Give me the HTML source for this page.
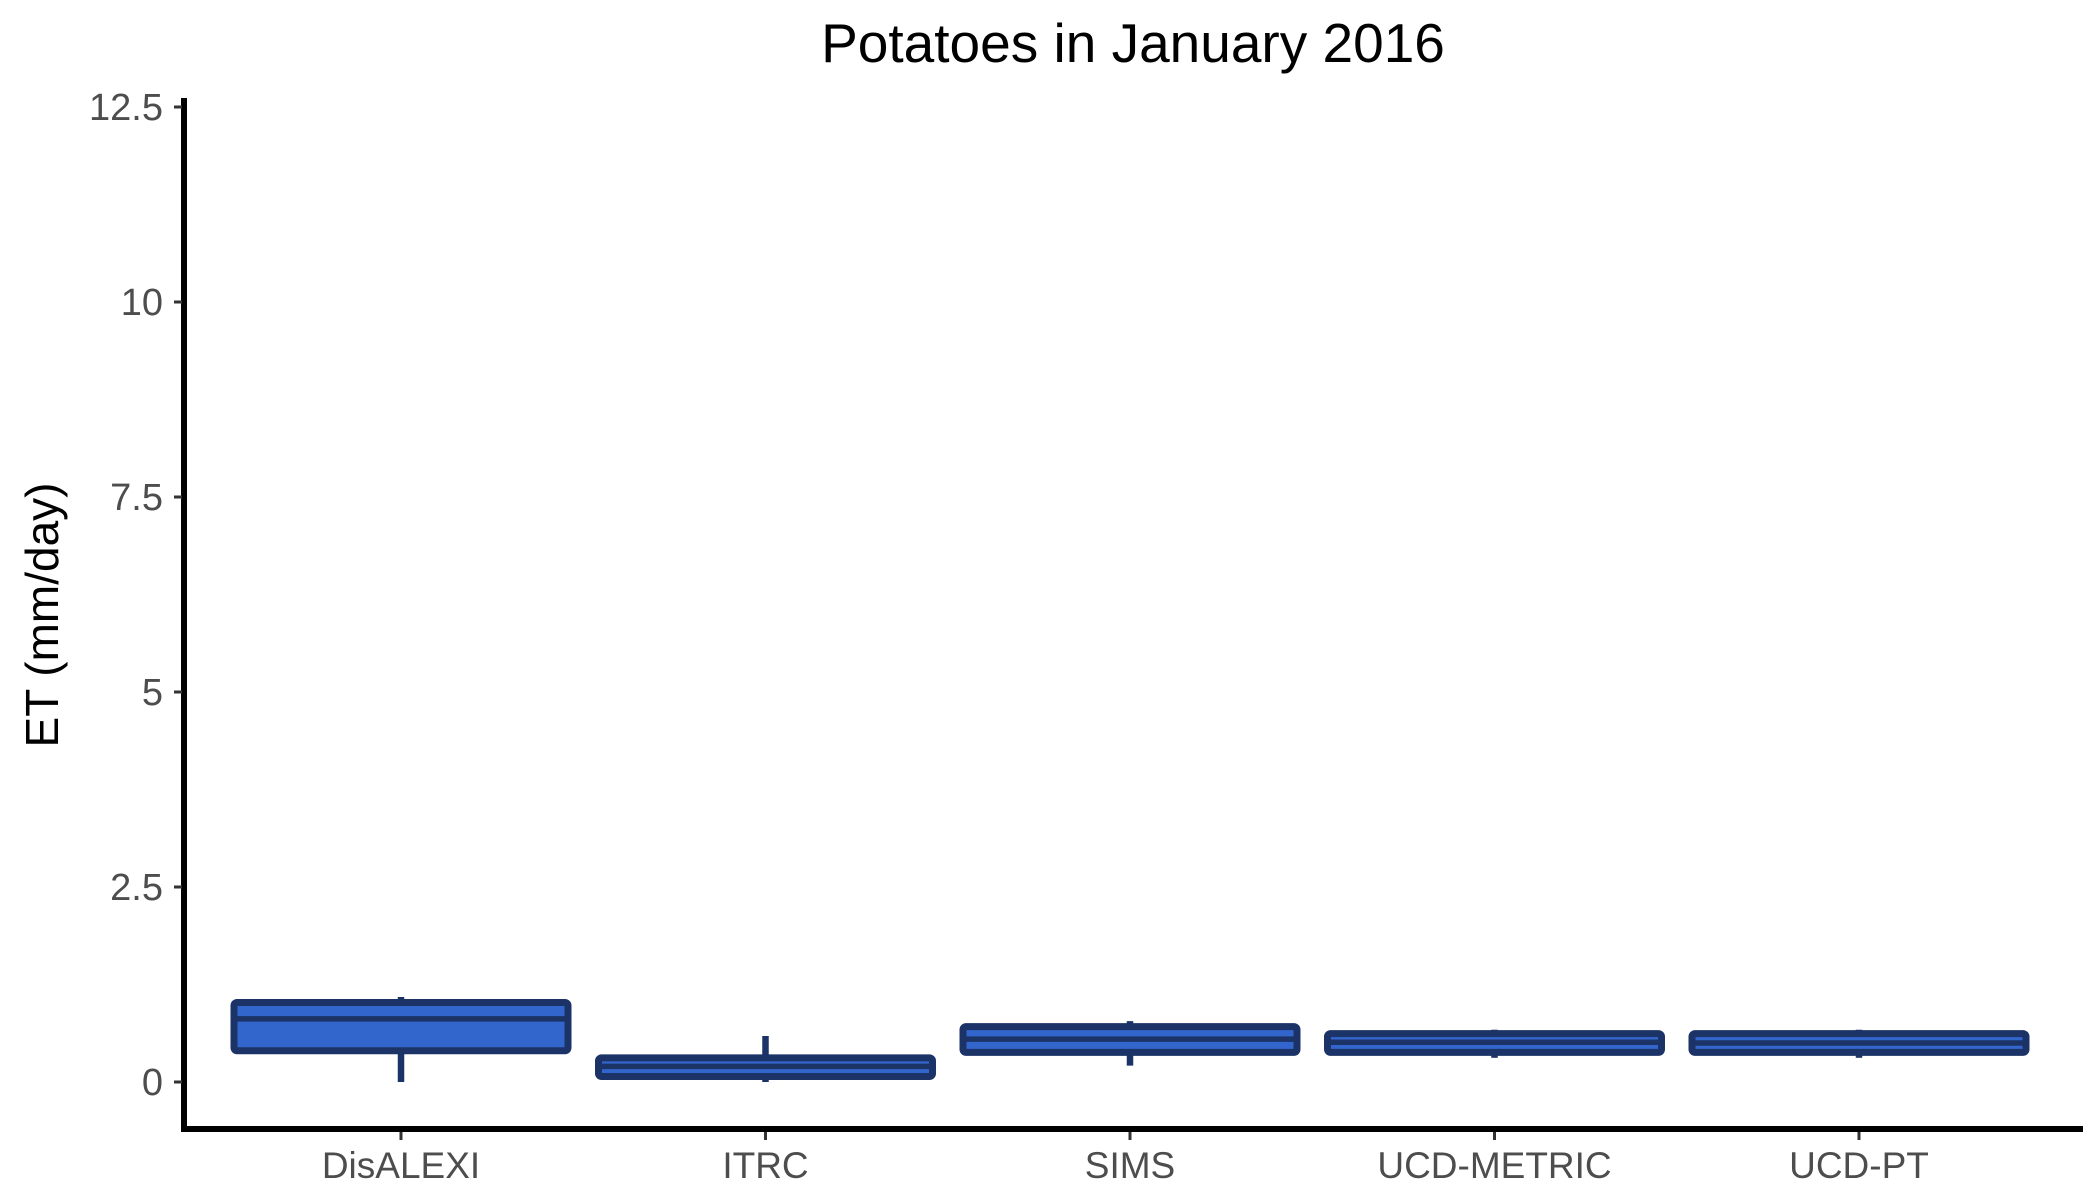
<!DOCTYPE html>
<html><head><meta charset="utf-8">
<style>
html,body{margin:0;padding:0;background:#fff;}
svg{display:block;font-family:"Liberation Sans",Arial,sans-serif;}
</style></head>
<body>
<svg id="chart" width="2100" height="1200" viewBox="0 0 2100 1200">
<text x="1133" y="62" text-anchor="middle" font-size="55" fill="#000">Potatoes in January 2016</text>
<text transform="translate(58,615) rotate(-90)" text-anchor="middle" font-size="46" fill="#000">ET (mm/day)</text>
<g id="plot"></g>
</svg>
<script>
const categories = ["DisALEXI","ITRC","SIMS","UCD-METRIC","UCD-PT"];
const whiskerLow = [0.0, 0.0, 0.21, 0.31, 0.31];
const q1 = [0.40, 0.07, 0.38, 0.38, 0.38];
const median = [0.81, 0.20, 0.55, 0.51, 0.50];
const q3 = [1.02, 0.31, 0.71, 0.62, 0.62];
const whiskerHigh = [1.09, 0.59, 0.78, 0.67, 0.67];
const yTicks = [0, 2.5, 5, 7.5, 10, 12.5];
const yTickLabels = ["0","2.5","5","7.5","10","12.5"];

const NS = "http://www.w3.org/2000/svg";
const g = document.getElementById('plot');
const y0 = 1082, yTop = 107, vmax = 12.5;
const y = v => y0 - v * (y0 - yTop) / vmax;
const xStart = 401, xStep = 364.5;
const x = i => xStart + i * xStep;
const boxW = 334;
const stroke = "#1b3366";
function el(tag, attrs){const e=document.createElementNS(NS,tag);for(const k in attrs)e.setAttribute(k,attrs[k]);g.appendChild(e);return e;}

let ax = el('line',{x1:184,y1:98,x2:184,y2:1131,stroke:'#000','stroke-width':6});


ax = el('line',{x1:181,y1:1129,x2:2083,y2:1129,stroke:'#000','stroke-width':6});



yTicks.forEach((v,i)=>{
  const t = el('line',{x1:174,y1:y(v),x2:182,y2:y(v),stroke:'#333','stroke-width':3});
  
  
  const l = el('text',{x:163,y:y(v)+13,'text-anchor':'end','font-size':38,fill:'#4d4d4d'});
  l.textContent = yTickLabels[i];
  
  
});

categories.forEach((c,i)=>{
  const cx = x(i);
  const t = el('line',{x1:cx,y1:1132,x2:cx,y2:1140,stroke:'#333','stroke-width':3});
  
  
  const l = el('text',{x:cx,y:1178,'text-anchor':'middle','font-size':37,fill:'#4d4d4d'});
  l.textContent = c;
  
  
  const w = el('line',{x1:cx,y1:y(whiskerLow[i]),x2:cx,y2:y(whiskerHigh[i]),stroke:stroke,'stroke-width':6.5});
  
  
  const b = el('rect',{x:cx-boxW/2,y:y(q3[i]),width:boxW,height:y(q1[i])-y(q3[i]),fill:'#3366cc',stroke:stroke,'stroke-width':7,rx:3});
  
  
  const m = el('line',{x1:cx-boxW/2,y1:y(median[i]),x2:cx+boxW/2,y2:y(median[i]),stroke:stroke,'stroke-width':5.5});
  
  
});
</script>
</body></html>
